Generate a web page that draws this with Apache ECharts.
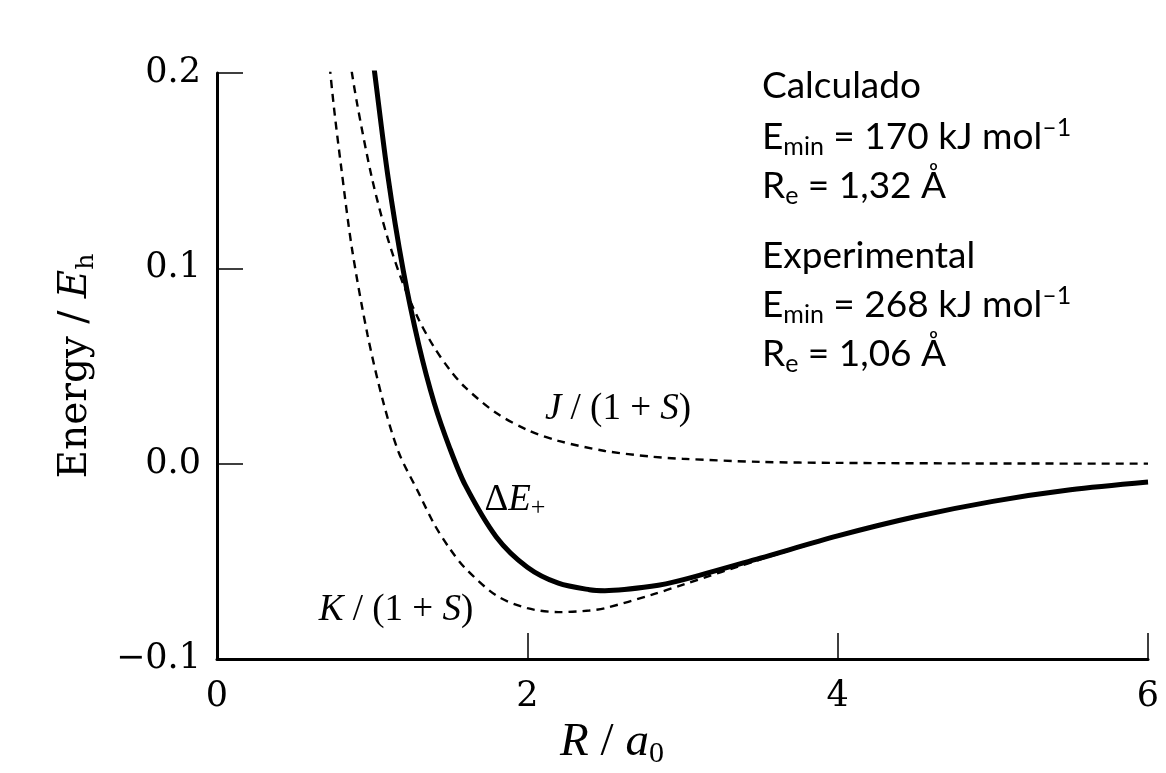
<!DOCTYPE html>
<html><head><meta charset="utf-8">
<script src="https://cdn.jsdelivr.net/npm/echarts@6/dist/echarts.min.js"></script>
<style>html,body{margin:0;padding:0;background:#fff}#c{width:1166px;height:773px}</style>
</head><body><div id="c"></div>
<script>
// ---- data ----
const xTickLabels = ['0', '2', '4', '6'];
const yTickLabels = ['\u22120.1', '0.0', '0.1', '0.2'];

const kR = [0.70, 0.75, 0.80, 0.87, 0.97, 1.07, 1.17, 1.30, 1.40, 1.50, 1.60, 1.80, 2.00, 2.20, 2.40, 2.50, 2.80, 3.00, 3.50, 4.00, 4.50, 5.00, 5.50, 6.00];
const kE = [0.225, 0.185, 0.152, 0.110, 0.066, 0.032, 0.006, -0.015, -0.031, -0.0435, -0.0535, -0.0675, -0.0740, -0.0760, -0.0752, -0.0740, -0.0672, -0.0620, -0.0491, -0.0372, -0.0272, -0.0193, -0.0134, -0.0091];

const jR = [0.84, 0.90, 1.00, 1.10, 1.20, 1.30, 1.40, 1.50, 1.60, 1.80, 2.00, 2.20, 2.50, 2.80, 3.00, 3.50, 4.00, 5.00, 6.00];
const jE = [0.215, 0.1856, 0.1457, 0.1154, 0.0920, 0.0738, 0.0595, 0.0481, 0.0390, 0.0259, 0.0173, 0.0117, 0.0065, 0.0036, 0.0025, 0.0009, 0.0004, 0.0001, 0.0];

const dR = [0.97, 1.00, 1.10, 1.20, 1.30, 1.40, 1.50, 1.60, 1.80, 2.00, 2.20, 2.40, 2.50, 2.80, 3.00, 3.50, 4.00, 4.50, 5.00, 5.50, 6.00];
const dE = [0.225, 0.2100, 0.1480, 0.0990, 0.0610, 0.0310, 0.0080, -0.0110, -0.0375, -0.0530, -0.0612, -0.0645, -0.0650, -0.0628, -0.0595, -0.0484, -0.0370, -0.0272, -0.0193, -0.0134, -0.0094];

const zip = (a, b) => a.map((v, i) => [v, b[i]]);

const SERIF = '"Liberation Serif", "DejaVu Serif", serif';
const WSERIF = '"DejaVu Serif", "Liberation Serif", serif';
const SANS = 'Lato, "Open Sans", sans-serif';

const chart = echarts.init(document.getElementById('c'), null, {renderer: 'canvas'});

const sansRich = {
  b: {fontFamily: SANS, fontSize: 37, color: '#000', lineHeight: 44},
  sub: {fontFamily: SANS, fontSize: 25, color: '#000', lineHeight: 20, verticalAlign: 'bottom'},
  sup: {fontFamily: SANS, fontSize: 25, color: '#000', lineHeight: 24, verticalAlign: 'top'}
};
const serifRich = {
  n: {fontFamily: SERIF, fontSize: 37, color: '#000', lineHeight: 42},
  i: {fontFamily: SERIF, fontStyle: 'italic', fontSize: 37, color: '#000', lineHeight: 42},
  isub: {fontFamily: SERIF, fontSize: 26, color: '#000', lineHeight: 22, verticalAlign: 'bottom'}
};

function txt(x, y, text, rich, align) {
  return {type: 'text', x: x, y: y, z: 100,
    style: {text: text, rich: rich, align: align || 'left', verticalAlign: 'middle', fill: '#000'}};
}

const option = {
  backgroundColor: '#fff',
  animation: false,
  grid: {left: 217, right: 18, top: 73, bottom: 114, containLabel: false},
  xAxis: {
    type: 'value', min: 0, max: 6, interval: 2,
    axisLine: {show: true, onZero: false, lineStyle: {color: '#000', width: 3}},
    axisTick: {show: true, inside: true, length: 26, lineStyle: {color: '#000', width: 1.5}},
    axisLabel: {show: true, margin: 20, color: '#000', fontFamily: WSERIF, fontSize: 35,
      formatter: v => xTickLabels[Math.round(v / 2)]},
    splitLine: {show: false}
  },
  yAxis: {
    type: 'value', min: -0.1, max: 0.2, interval: 0.1,
    axisLine: {show: true, onZero: false, lineStyle: {color: '#000', width: 3}},
    axisTick: {show: true, inside: true, length: 26, lineStyle: {color: '#000', width: 1.5}},
    axisLabel: {show: true, margin: 16, color: '#000', fontFamily: WSERIF, fontSize: 35,
      formatter: v => yTickLabels[Math.round((v + 0.1) / 0.1)]},
    splitLine: {show: false},
    name: '{n|Energy / }{i|E}{isub|h}',
    nameLocation: 'middle', nameRotate: 90, nameGap: 118,
    nameTextStyle: {rich: {
      n: {fontFamily: WSERIF, fontSize: 39, color: '#000', lineHeight: 46},
      i: {fontFamily: WSERIF, fontStyle: 'italic', fontSize: 39, color: '#000', lineHeight: 46},
      isub: {fontFamily: WSERIF, fontSize: 25, color: '#000', lineHeight: 22, verticalAlign: 'bottom'}
    }}
  },
  series: [
    {name: 'K/(1+S)', type: 'line', data: zip(kR, kE), showSymbol: false, smooth: 0.3, clip: true, z: 2,
      lineStyle: {color: '#000', width: 2.4, type: [8, 6]}},
    {name: 'J/(1+S)', type: 'line', data: zip(jR, jE), showSymbol: false, smooth: 0.3, clip: true, z: 2,
      lineStyle: {color: '#000', width: 2.4, type: [8, 6]}},
    {name: 'ΔE+', type: 'line', data: zip(dR, dE), showSymbol: false, smooth: 0.3, clip: true, z: 3,
      lineStyle: {color: '#000', width: 5, type: 'solid'}}
  ],
  graphic: [
    txt(612, 743, '{i|R}{n| / }{i|a}{isub|0}', {
      n: {fontFamily: SERIF, fontSize: 47, color: '#000', lineHeight: 52},
      i: {fontFamily: SERIF, fontStyle: 'italic', fontSize: 47, color: '#000', lineHeight: 52},
      isub: {fontFamily: SERIF, fontSize: 30, color: '#000', lineHeight: 26, verticalAlign: 'bottom'}
    }, 'center'),
    txt(618, 409, '{i|J}{n| / (1 + }{i|S}{n|)}', serifRich, 'center'),
    txt(396, 610, '{i|K}{n| / (1 + }{i|S}{n|)}', serifRich, 'center'),
    txt(515, 500, '{n|\u0394}{i|E}{isub|+}', serifRich, 'center'),
    txt(762, 86, '{b|Calculado}', sansRich),
    txt(762, 137, '{b|E}{sub|min}{b| = 170 kJ mol}{sup|\u20131}', sansRich),
    txt(762, 186, '{b|R}{sub|e}{b| = 1,32 \u00C5}', sansRich),
    txt(762, 256, '{b|Experimental}', sansRich),
    txt(762, 305, '{b|E}{sub|min}{b| = 268 kJ mol}{sup|\u20131}', sansRich),
    txt(762, 354, '{b|R}{sub|e}{b| = 1,06 \u00C5}', sansRich)
  ]
};
chart.setOption(option);
</script>
</body></html>
